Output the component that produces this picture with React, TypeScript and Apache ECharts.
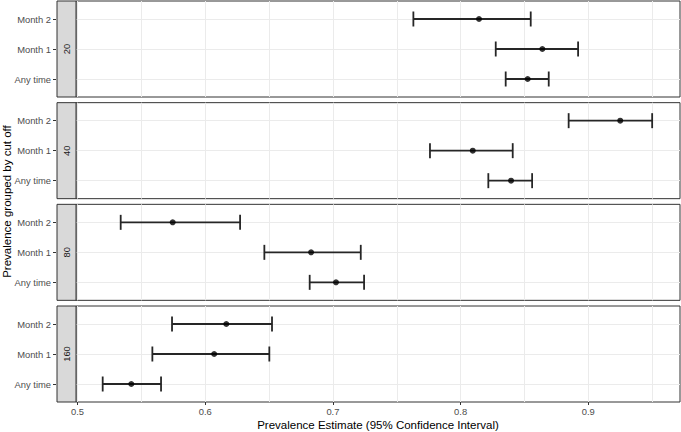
import React, { useEffect, useRef } from "react";
import * as echarts from "echarts";

const cutoffs = ["20", "40", "80", "160"];
const timepoints = ["Any time", "Month 1", "Month 2"]; // y = 1, 2, 3
const estimates = [
  [0.8525, 0.864, 0.8144],
  [0.8395, 0.8095, 0.925],
  [0.7024, 0.6829, 0.5745],
  [0.5421, 0.607, 0.6165],
];
const lowers = [
  [0.8353, 0.8275, 0.763],
  [0.8217, 0.776, 0.8846],
  [0.6818, 0.6463, 0.5338],
  [0.5197, 0.5586, 0.574],
];
const uppers = [
  [0.869, 0.892, 0.8549],
  [0.856, 0.8408, 0.95],
  [0.7244, 0.7218, 0.6273],
  [0.5654, 0.6502, 0.6523],
];
const xTickLabels = [0.5, 0.6, 0.7, 0.8, 0.9];
const xGridValues = [0.5, 0.55, 0.6, 0.65, 0.7, 0.75, 0.8, 0.85, 0.9, 0.95];
const xTitle = "Prevalence Estimate (95% Confidence Interval)";
const yTitle = "Prevalence grouped by cut off";

const FONT = "Liberation Sans, Arial, sans-serif";
const PLOT_LEFT = 76;
const PLOT_RIGHT = 1;
const PANEL_TOP0 = 1;
const PANEL_H = 96;
const PANEL_STEP = 101.67;
const X_MIN = 0.4988;
const X_MAX = 0.9718;

export default function App() {
  const ref = useRef<HTMLDivElement>(null);
  useEffect(() => {
    if (!ref.current) return;
    const chart = echarts.init(ref.current, null, { renderer: "svg" });
    const n = cutoffs.length;
    const grids: any[] = [];
    const xAxes: any[] = [];
    const yAxes: any[] = [];
    const series: any[] = [];
    const graphics: any[] = [];
    for (let i = 0; i < n; i++) {
      const top = PANEL_TOP0 + i * PANEL_STEP;
      const last = i === n - 1;
      grids.push({
        left: PLOT_LEFT,
        right: PLOT_RIGHT,
        top,
        height: PANEL_H,
        show: true,
        borderColor: "#333333",
        borderWidth: 1,
        backgroundColor: "#ffffff",
      });
      xAxes.push({
        type: "value",
        gridIndex: i,
        min: X_MIN,
        max: X_MAX,
        axisLine: { show: false },
        axisTick: { show: false, customValues: xGridValues },
        axisLabel: { show: false },
        splitLine: { show: true, lineStyle: { color: "#EBEBEB", width: 1 } },
      });
      yAxes.push({
        type: "value",
        gridIndex: i,
        min: 0.4,
        max: 3.6,
        offset: 20,
        axisLine: { show: false },
        axisTick: {
          show: true,
          customValues: [1, 2, 3],
          length: 3,
          lineStyle: { color: "#333333", width: 1 },
        },
        axisLabel: {
          show: true,
          customValues: [1, 2, 3],
          margin: 5,
          color: "#4D4D4D",
          fontFamily: FONT,
          fontSize: 9.4,
          formatter: (v: number) => timepoints[Math.round(v) - 1] ?? "",
        },
        splitLine: { show: true, lineStyle: { color: "#EBEBEB", width: 1 } },
      });
      const errData = timepoints.map((_, k) => [lowers[i][k], uppers[i][k], k + 1]);
      const ptData = timepoints.map((_, k) => [estimates[i][k], k + 1]);
      series.push({
        type: "custom",
        xAxisIndex: i,
        yAxisIndex: i,
        data: errData,
        encode: { x: [0, 1], y: 2 },
        renderItem: (params: any, api: any) => {
          const lo = api.value(0);
          const hi = api.value(1);
          const y = api.value(2);
          const p1 = api.coord([lo, y]);
          const p2 = api.coord([hi, y]);
          const half = api.size([0, 0.25])[1];
          const style = { stroke: "#262626", lineWidth: 1.8 };
          return {
            type: "group",
            children: [
              { type: "line", shape: { x1: p1[0], y1: p1[1], x2: p2[0], y2: p2[1] }, style },
              { type: "line", shape: { x1: p1[0], y1: p1[1] - half, x2: p1[0], y2: p1[1] + half }, style },
              { type: "line", shape: { x1: p2[0], y1: p2[1] - half, x2: p2[0], y2: p2[1] + half }, style },
            ],
          };
        },
        z: 2,
      });
      series.push({
        type: "scatter",
        xAxisIndex: i,
        yAxisIndex: i,
        data: ptData,
        symbol: "circle",
        symbolSize: 6,
        itemStyle: { color: "#000000" },
        z: 3,
      });
      graphics.push({
        type: "rect",
        shape: { x: 57, y: top, width: PLOT_LEFT - 57, height: PANEL_H },
        style: { fill: "#D9D9D9", stroke: "#333333", lineWidth: 1 },
        z: 10,
      });
      graphics.push({
        type: "text",
        x: 66.5,
        y: top + PANEL_H / 2,
        rotation: Math.PI / 2,
        style: {
          text: cutoffs[i],
          fill: "#1A1A1A",
          fontFamily: FONT,
          fontSize: 9.4,
          align: "center",
          verticalAlign: "middle",
        },
        z: 11,
      });
      if (last) {
        xAxes.push({
          type: "value",
          gridIndex: i,
          min: X_MIN,
          max: X_MAX,
          position: "bottom",
          axisLine: { show: false },
          axisTick: {
            show: true,
            customValues: xTickLabels,
            length: 3,
            lineStyle: { color: "#333333", width: 1 },
          },
          axisLabel: {
            show: true,
            customValues: xTickLabels,
            margin: 5,
            color: "#4D4D4D",
            fontFamily: FONT,
            fontSize: 9.4,
            formatter: (v: number) => String(Math.round(v * 10) / 10),
          },
          splitLine: { show: false },
          name: xTitle,
          nameLocation: "middle",
          nameGap: 17,
          nameTextStyle: { color: "#000000", fontFamily: FONT, fontSize: 11.5 },
        });
      }
    }
    graphics.push({
      type: "text",
      x: 7,
      y: PANEL_TOP0 + ((n - 1) * PANEL_STEP + PANEL_H) / 2,
      rotation: Math.PI / 2,
      style: {
        text: yTitle,
        fill: "#000000",
        fontFamily: FONT,
        fontSize: 11.5,
        align: "center",
        verticalAlign: "middle",
      },
    });
    chart.setOption({
      animation: false,
      backgroundColor: "#ffffff",
      grid: grids,
      xAxis: xAxes,
      yAxis: yAxes,
      series,
      graphic: graphics,
    });
    return () => chart.dispose();
  }, []);
  return <div ref={ref} style={{ width: 681, height: 432, position: "fixed", left: 0, top: 0 }} />;
}
